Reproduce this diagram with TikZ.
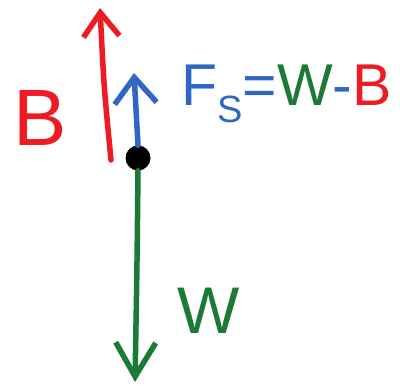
\documentclass[tikz,border=0pt]{standalone}
\usepackage{fontspec}
\setmainfont{Liberation Sans}
\usetikzlibrary{arrows.meta,positioning}
\definecolor{penred}{RGB}{237,28,36}
\definecolor{penblue}{RGB}{50,102,196}
\definecolor{pengreen}{RGB}{26,122,54}

\begin{document}
\begin{tikzpicture}[x=1pt, y=1pt,
    force/.style={line width=5.5pt, line cap=round, line join=round},
    label/.style={inner sep=0pt, font=\fontsize{66}{66}\selectfont}]
    \useasboundingbox (0,0) rectangle (406,388);
    % the body
    \node[circle, fill=black, minimum size=25pt, inner sep=0pt] (body) at (138,230) {};
    \coordinate (wtip) at (135,6);
    \coordinate (fstip) at (134,315);
    \coordinate (bbase) at (111,228);
    \coordinate (btip) at (100,380);
    % forces
    \draw[force, pengreen, -{Straight Barb[length=34pt, width=40pt]}] (body.south) .. controls (137,120) .. (wtip);
    \draw[force, penblue, -{Straight Barb[length=26pt, width=42pt]}] (body.north) -- (fstip);
    \draw[force, penred, -{Straight Barb[length=24pt, width=36pt]}] (bbase) .. controls (104,300) .. (btip);
    % labels
    \node[label, penred, font=\fontsize{80}{80}\selectfont] (blabel) at (40,270) {B};
    \node[label, pengreen] (wlabel) at (209,77) {W};
    \node[label, anchor=west, font=\fontsize{59}{59}\selectfont] (eqn) at (181,294) {\color{penblue}F\raisebox{-0.3em}{\fontsize{38}{38}\selectfont S}=\color{pengreen}W\color{penblue}-\color{penred}B};
\end{tikzpicture}
\end{document}
